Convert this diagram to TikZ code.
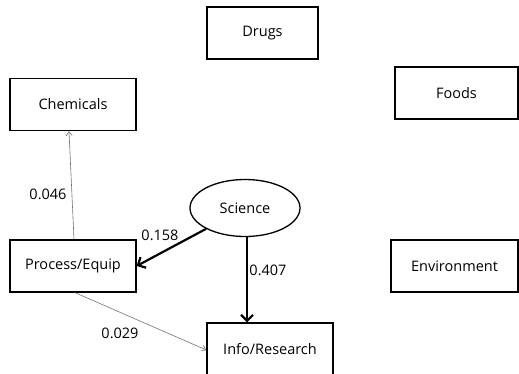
\documentclass[tikz,border=0pt]{standalone}
\usepackage{fontspec}
\setmainfont{Open Sans}
\usetikzlibrary{shapes,arrows.meta,positioning,calc}
\tikzset{
    construct/.style={rectangle, draw, line width=1.3pt, minimum width=126pt, minimum height=52pt, align=center, font=\fontsize{14.5}{17}\selectfont},
    latent/.style={ellipse, draw, line width=1.3pt, minimum width=110pt, minimum height=57pt, inner sep=0pt, font=\fontsize{14.5}{17}\selectfont},
    coef/.style={font=\fontsize{14.5}{17}\selectfont},
    strongpath/.style={line width=2.2pt, -{Straight Barb[length=6pt,width=12pt,line width=2.2pt]}},
    weakpath/.style={line width=0.6pt, draw=black!55, -{Straight Barb[length=4pt,width=6pt]}}
}
\begin{document}
\begin{tikzpicture}[x=1pt,y=-1pt]
    \useasboundingbox (0,0) rectangle (519,373);
    % Constructs
    \node[construct, minimum width=111pt] (drugs) at (262.5,33) {Drugs};
    \node[construct] (chem) at (73,104.5) {Chemicals};
    \node[construct, minimum width=123pt] (foods) at (456.5,93) {Foods};
    \node[construct] (proc) at (73,266) {Process/Equip};
    \node[construct, minimum width=127pt] (env) at (454.5,266) {Environment};
    \node[construct] (info) at (270,349) {Info/Research};
    \node[latent] (sci) at (245,208) {Science};
    % Paths
    \draw[weakpath] ([xshift=1pt]proc.north) -- ([xshift=-4pt]chem.south);
    \draw[strongpath] (sci) -- (proc.east);
    \draw[strongpath] ([xshift=2pt]sci.south) -- ([xshift=2pt]sci.south |- info.north);
    \draw[weakpath] ([xshift=2pt]proc.south) -- ([yshift=-1pt]info.west);
    % Coefficients
    \node[coef] (c1) at (48,194) {0.046};
    \node[coef] (c2) at (160,235) {0.158};
    \node[coef] (c3) at (268,270) {0.407};
    \node[coef] (c4) at (120,333) {0.029};
\end{tikzpicture}
\end{document}
